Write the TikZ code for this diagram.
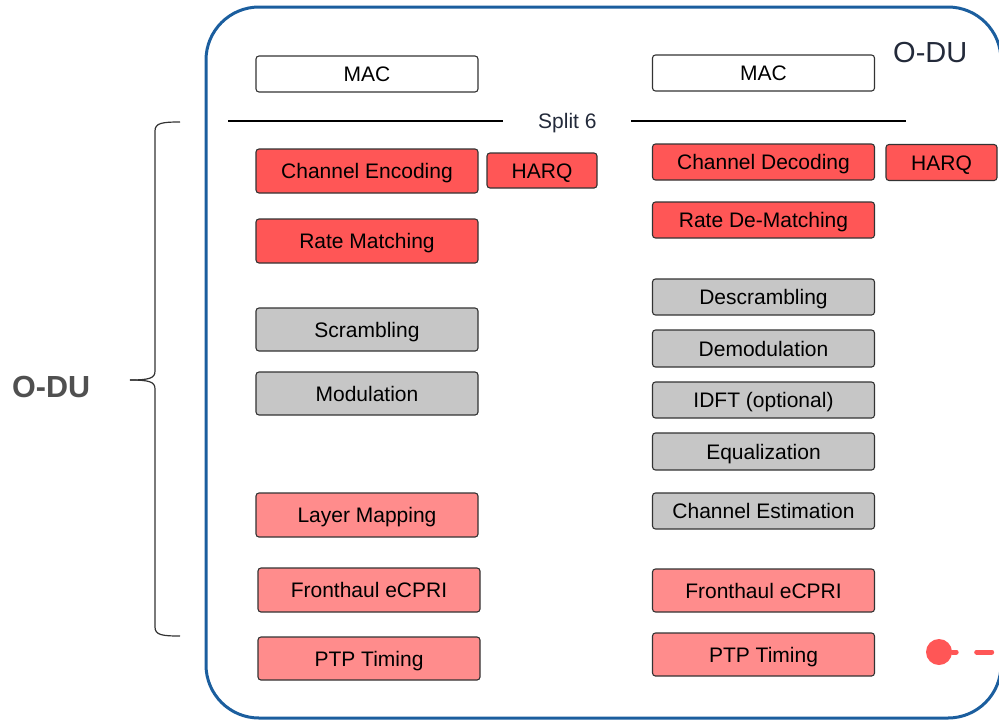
\documentclass[tikz,border=0pt]{standalone}
\usepackage{fontspec}
\setmainfont{Liberation Sans}
\definecolor{frameblue}{HTML}{1B5E9E}
\definecolor{hired}{HTML}{FF5656}
\definecolor{lored}{HTML}{FF8C8C}
\definecolor{midgray}{HTML}{C6C6C6}
\definecolor{edgegray}{HTML}{333333}
\definecolor{navytext}{HTML}{232A3A}
\definecolor{labelgray}{HTML}{505050}
\begin{document}
\begin{tikzpicture}[x=1pt,y=-1pt,
  blk/.style={draw=edgegray, line width=1.1pt, rounded corners=3pt,
    minimum width=222pt, inner sep=0pt, text height=15pt, text depth=0pt,
    font=\fontsize{21}{24}\selectfont, text=black},
  macbox/.style={blk, fill=white, minimum height=36pt},
  fecbox/.style={blk, fill=hired},
  grbox/.style={blk, fill=midgray},
  lrbox/.style={blk, fill=lored},
  harqbox/.style={blk, fill=hired, minimum width=110pt, minimum height=36pt},
  splitline/.style={line width=2.5pt, black},
  bracepath/.style={draw=edgegray, line width=1.2pt}
]
\useasboundingbox (0,0) rectangle (999,721);
\clip (0,0) rectangle (999,721);

% outer O-DU frame
\draw[frameblue, line width=3pt, rounded corners=53pt] (206,7) rectangle (1001,718);
\node[anchor=base west, inner sep=0pt, text=navytext,
      font=\fontsize{29}{32}\selectfont] (odutop) at (893,62) {O-DU};

% left column (downlink)
\node[macbox] (macL) at (367,74) {MAC};
\node[fecbox, minimum height=44pt] (encL) at (367,171) {Channel Encoding};
\node[harqbox, minimum height=35pt] (harqL) at (542,170.5) {HARQ};
\node[fecbox, minimum height=44pt] (rmL) at (367,241) {Rate Matching};
\node[grbox, minimum height=43pt] (scrL) at (367,329.5) {Scrambling};
\node[grbox, minimum height=43pt] (modL) at (367,393.5) {Modulation};
\node[lrbox, minimum height=44pt] (lmL) at (367,515) {Layer Mapping};
\node[lrbox, minimum height=44pt] (fhL) at (369,590) {Fronthaul eCPRI};
\node[lrbox, minimum height=43pt] (ptpL) at (369,658.5) {PTP Timing};

% right column (uplink)
\node[macbox] (macR) at (763.5,73) {MAC};
\node[fecbox, minimum height=36pt] (decR) at (763.5,162) {Channel Decoding};
\node[harqbox, minimum width=111pt] (harqR) at (941.5,162.5) {HARQ};
\node[fecbox, minimum height=36pt] (rdmR) at (763.5,220) {Rate De-Matching};
\node[grbox, minimum height=36pt] (dscR) at (763.5,297) {Descrambling};
\node[grbox, minimum height=37pt] (dmR) at (763.5,348.5) {Demodulation};
\node[grbox, minimum height=36pt] (idftR) at (763.5,400) {IDFT (optional)};
\node[grbox, minimum height=37pt] (eqR) at (763.5,451.5) {Equalization};
\node[grbox, minimum height=36pt] (ceR) at (763.5,511) {Channel Estimation};
\node[lrbox, minimum height=43pt] (fhR) at (763.5,590.5) {Fronthaul eCPRI};
\node[lrbox, minimum height=43pt] (ptpR) at (763.5,654.5) {PTP Timing};

% split 6 boundary
\coordinate (sLa) at (228,121);
\coordinate (sLb) at (503,121);
\coordinate (sRa) at (631,121);
\coordinate (sRb) at (906,121);
\draw[splitline] (sLa) -- (sLb);
\draw[splitline] (sRa) -- (sRb);
\node[anchor=base west, inner sep=0pt, text=navytext,
      font=\fontsize{21}{24}\selectfont] (split) at (538,128.5) {Split 6};

% brace grouping the O-DU functions
\draw[bracepath] (180,122) .. controls (162,122) and (155,123) .. (155,131)
  -- (155,371) .. controls (155,378) and (150,380) .. (130,380);
\draw[bracepath] (130,380) .. controls (150,380) and (155,382) .. (155,389)
  -- (155,627) .. controls (155,635) and (162,636) .. (180,636);
\node[anchor=base west, inner sep=0pt, text=labelgray,
      font=\fontsize{30.5}{34}\selectfont\bfseries] (odul) at (12,397) {O-DU};

% link endpoint
\node[circle, fill=hired, minimum size=26pt, inner sep=0pt] (dot) at (939,652) {};
\coordinate (linkend) at (994,652);
\draw[hired, line width=5pt, line cap=round,
      dash pattern=on 4pt off 20.5pt on 15pt off 100pt] (dot.east) -- (linkend);
\end{tikzpicture}
\end{document}
